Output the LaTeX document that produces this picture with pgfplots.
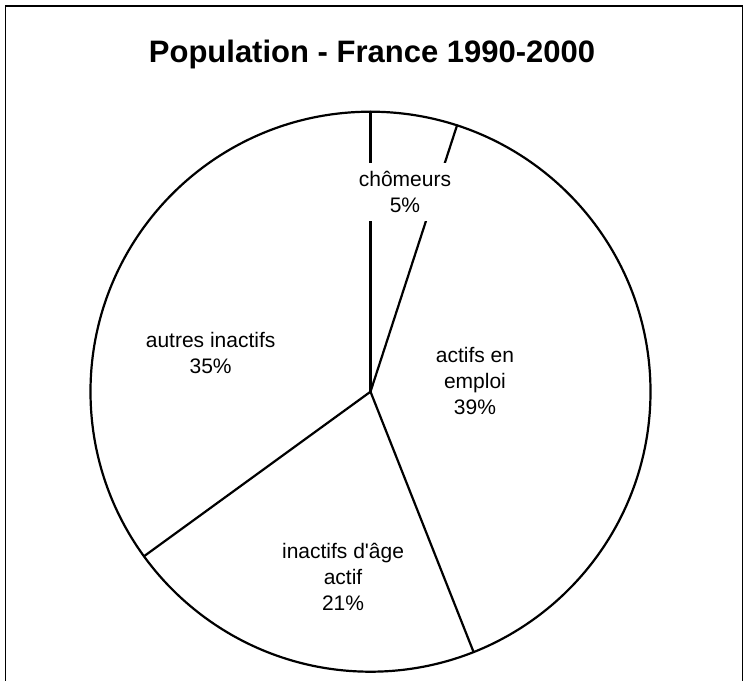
\documentclass[border=0pt]{standalone}
\usepackage{pgfplots}
\pgfplotsset{compat=1.18}
\usepackage{pgfplotstable}
\usepackage{fontspec}
\setmainfont{Liberation Sans}[Ligatures=TeXOff]

% shares in percent, clockwise from 12 o'clock
\pgfplotstableread{
share
5
39
21
35
}\pietable
% running total: each row gives the angle where its slice ends
\pgfplotstablecreatecol[create col/expr accum={\pgfmathaccuma + \thisrow{share}}{0}]{cum}\pietable

\begin{document}
\begin{tikzpicture}
\useasboundingbox (0bp,0bp) rectangle (743bp,681bp);
% chart frame
\draw[line width=1.2bp] (5.5bp,-5bp) -- (5.5bp,675bp) -- (742.3bp,675bp) -- (742.3bp,-5bp);
\node[font=\bfseries\fontsize{31bp}{37bp}\selectfont, anchor=base, inner sep=0pt]
  at (372bp,618bp) {Population - France 1990-2000};
\begin{axis}[
  at={(370.5bp,289.3bp)}, anchor=center,
  width=560bp, height=560bp, scale only axis,
  xmin=-1, xmax=1, ymin=-1, ymax=1,
  hide axis, clip=false,
]
\draw[line width=2.2bp] (axis cs:0,0) circle[radius=280bp];
% slice boundaries, one radius per row
\addplot[black, line width=2.2bp, line cap=round,
  quiver={u={cos(90-3.6*\thisrow{cum})}, v={sin(90-3.6*\thisrow{cum})}}]
  table[x expr=0, y expr=0] \pietable;
\begin{scope}[every node/.style={fill=white, align=center,
    font=\fontsize{21bp}{26bp}\selectfont, inner xsep=6bp, inner ysep=8bp}]
\node at (axis cs:0.123,0.713) {chômeurs\\5\%};
\node at (axis cs:0.373,0.038) {actifs en\\emploi\\39\%};
\node at (axis cs:-0.098,-0.662) {inactifs d'âge\\actif\\21\%};
\node at (axis cs:-0.571,0.138) {autres inactifs\\35\%};
\end{scope}
\end{axis}
\end{tikzpicture}
\end{document}
